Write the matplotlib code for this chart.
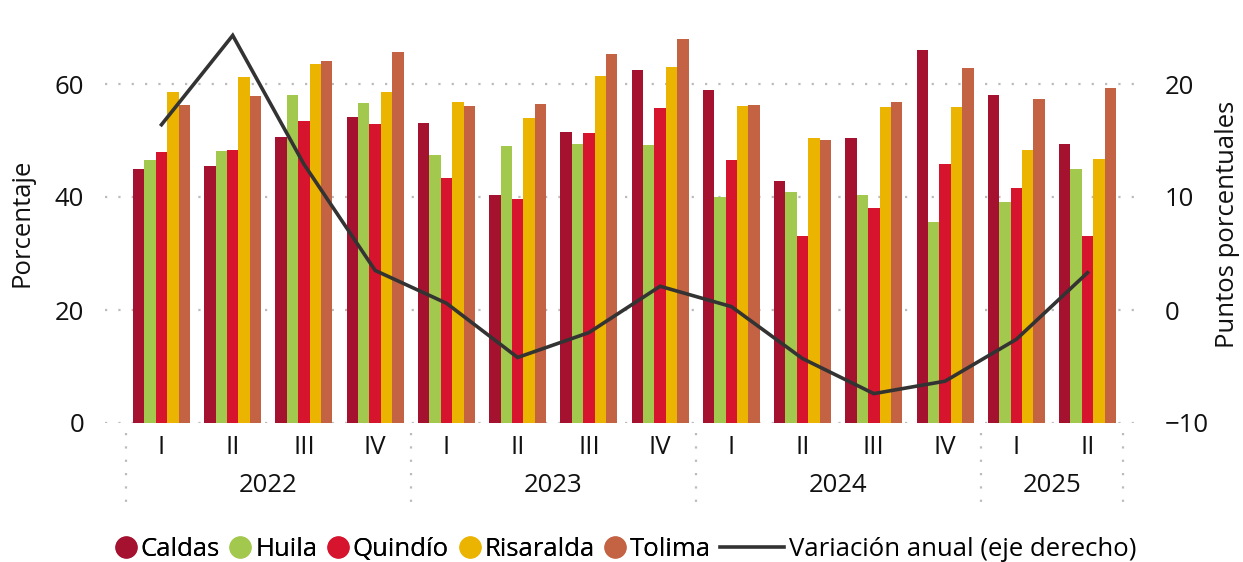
import matplotlib
matplotlib.use("Agg")
import matplotlib.pyplot as plt
from matplotlib.lines import Line2D
from matplotlib.transforms import blended_transform_factory
import numpy as np

plt.rcParams['font.family'] = ['Open Sans', 'DejaVu Sans']

trimestres = ["I", "II", "III", "IV", "I", "II", "III", "IV",
              "I", "II", "III", "IV", "I", "II"]
anios = ["2022", "2023", "2024", "2025"]
trimestres_por_anio = [4, 4, 4, 2]

caldas = [45.0, 45.5, 50.6, 54.2, 53.1, 40.4, 51.5, 62.5, 58.9, 42.8, 50.4, 66.0, 58.1, 49.4]
huila = [46.5, 48.1, 58.1, 56.6, 47.4, 49.0, 49.4, 49.2, 40.0, 40.9, 40.4, 35.6, 39.1, 45.0]
quindio = [48.0, 48.3, 53.5, 52.9, 43.4, 39.6, 51.3, 55.8, 46.5, 33.1, 38.1, 45.8, 41.6, 33.1]
risaralda = [58.6, 61.2, 63.5, 58.6, 56.8, 54.0, 61.4, 63.0, 56.1, 50.4, 55.9, 55.9, 48.3, 46.7]
tolima = [56.3, 57.9, 64.1, 65.7, 56.1, 56.4, 65.3, 68.0, 56.3, 50.1, 56.8, 62.8, 57.3, 59.3]
variacion = [16.4, 24.3, 12.9, 3.5, 0.6, -4.2, -2.0, 2.1, 0.3, -4.3, -7.4, -6.3, -2.6, 3.3]

series = [("Caldas", caldas, "#A51230"),
          ("Huila", huila, "#A2C84E"),
          ("Quindío", quindio, "#D7142D"),
          ("Risaralda", risaralda, "#EBB400"),
          ("Tolima", tolima, "#C46244")]

W, H = 1243, 562
fig = plt.figure(figsize=(W / 100, H / 100), dpi=100)
ax = fig.add_axes([105 / W, 1 - 423 / H, 1040 / W, 395.5 / H])
ax2 = ax.twinx()

x = np.arange(len(trimestres))
ancho = 0.16
for k, (nombre, valores, color) in enumerate(series):
    ax.bar(x + (k - 2) * ancho, valores, width=ancho, color=color, label=nombre, zorder=2)

linea, = ax2.plot(x, variacion, color="#333333", lw=2.6, solid_joinstyle="miter",
                  label="Variación anual (eje derecho)")

ax.set_xlim(-0.793, 13.807)
ax.set_ylim(0, 70)
ax2.set_ylim(-10, 25)
ax.set_yticks([0, 20, 40, 60])
ax2.set_yticks([-10, 0, 10, 20])

for a in (ax, ax2):
    for s in a.spines.values():
        s.set_visible(False)

fs = 18.5
ax.tick_params(axis="y", length=0, pad=15, labelsize=fs, labelcolor="#111111")
ax2.tick_params(axis="y", length=0, pad=14, labelsize=fs, labelcolor="#111111")
ax.set_xticks(x, trimestres)
ax.tick_params(axis="x", length=0, pad=9, labelsize=fs, labelcolor="#111111")
ax.yaxis.grid(True, linestyle=(0, (1, 5)), color="#BBBBBB", lw=1.6)
ax.set_axisbelow(True)

# años y separadores debajo del eje
tr = blended_transform_factory(ax.transData, fig.transFigure)
inicio = 0
for anio, n in zip(anios, trimestres_por_anio):
    centro = inicio + (n - 1) / 2
    ax.text(centro, 1 - 485 / H, anio, transform=tr, ha="center", va="center",
            fontsize=fs, color="#111111")
    inicio += n
bordes = [-0.5] + list(np.cumsum(trimestres_por_anio) - 0.5)
for b in bordes:
    fig.add_artist(Line2D([b, b], [1 - 433 / H, 1 - 505 / H], transform=tr,
                          color="#BBBBBB", lw=1.6, linestyle=(0, (1, 5))))

fig.text(22 / W, 1 - 223 / H, "Porcentaje", rotation=90, ha="center", va="center",
         fontsize=fs, color="#111111")
fig.text(1228 / W, 1 - 224 / H, "Puntos porcentuales", rotation=90, ha="center",
         va="center", fontsize=fs, color="#111111")

# leyenda
h_barras = [Line2D([], [], marker="o", ls="", markersize=15, color=c) for _, _, c in series]
l1 = fig.legend(h_barras, [n for n, _, _ in series], loc="center right",
                bbox_to_anchor=(711 / W, 1 - 549 / H), ncol=5, frameon=False,
                fontsize=fs, handlelength=0.82, handletextpad=0.16, columnspacing=0.4,
                borderpad=0, borderaxespad=0)
fig.add_artist(l1)
fig.legend([linea], [linea.get_label()], loc="center left",
           bbox_to_anchor=(720 / W, 1 - 549 / H), frameon=False, fontsize=fs,
           handlelength=2.5, handletextpad=0.2, borderpad=0, borderaxespad=0)

fig.savefig("out.png", dpi=100)
